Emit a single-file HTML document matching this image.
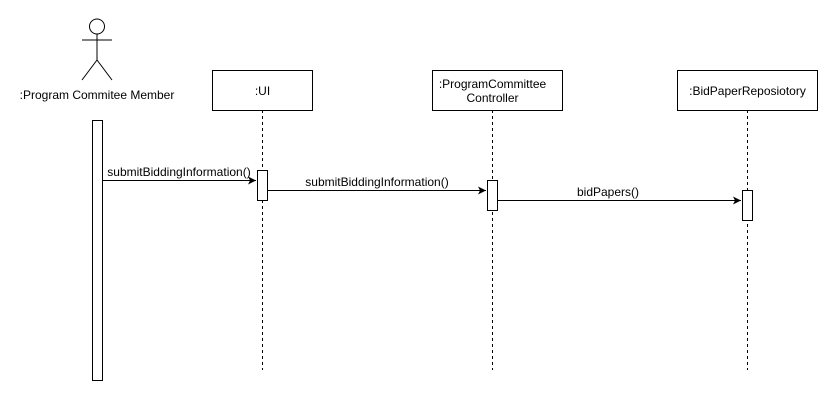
<!DOCTYPE html>
<html><head><style>body{margin:0;background:#fff}</style></head><body>
<svg width="838" height="401" xmlns="http://www.w3.org/2000/svg" font-family="Liberation Sans, Arial, sans-serif" font-size="12">
<defs><marker id="a" markerWidth="10" markerHeight="8" refX="8" refY="4" orient="auto" markerUnits="userSpaceOnUse"><path d="M0,0 L8,4 L0,8 L2,4 Z" fill="#000"/></marker></defs>
<g stroke="#000" fill="none" stroke-width="1">
<circle cx="97" cy="26.5" r="7.5"/>
<line x1="97" y1="34" x2="97" y2="60"/>
<line x1="82" y1="40" x2="112" y2="40"/>
<line x1="97" y1="60" x2="82" y2="80"/>
<line x1="97" y1="60" x2="112" y2="80"/>
<rect x="92.5" y="120.5" width="10" height="260" fill="#fff"/>
<rect x="212.5" y="70.5" width="100" height="40" fill="#fff"/>
<rect x="432.5" y="70.5" width="130" height="40" fill="#fff"/>
<rect x="677.5" y="70.5" width="140" height="40" fill="#fff"/>
<g stroke-dasharray="3,3">
<line x1="262.5" y1="110" x2="262.5" y2="370"/>
<line x1="492.5" y1="110" x2="492.5" y2="370"/>
<line x1="747.5" y1="110" x2="747.5" y2="370"/>
</g>
<rect x="257.5" y="170.5" width="10" height="30" fill="#fff"/>
<rect x="487.5" y="180.5" width="10" height="30" fill="#fff"/>
<rect x="742.5" y="190.5" width="10" height="30" fill="#fff"/>
<line x1="103" y1="180.5" x2="256" y2="180.5" marker-end="url(#a)"/>
<line x1="268" y1="190.5" x2="486" y2="190.5" marker-end="url(#a)"/>
<line x1="498" y1="200.5" x2="741" y2="200.5" marker-end="url(#a)"/>
</g>
<g fill="#000" text-anchor="middle">
<text x="97" y="99">:Program Commitee Member</text>
<text x="262.5" y="95">:UI</text>
<text x="492.5" y="88">:ProgramCommittee</text>
<text x="492.5" y="102">Controller</text>
<text x="747.5" y="95">:BidPaperReposiotory</text>
<text x="179" y="176">submitBiddingInformation()</text>
<text x="377" y="186">submitBiddingInformation()</text>
<text x="608" y="196">bidPapers()</text>
</g>
</svg>
</body></html>
